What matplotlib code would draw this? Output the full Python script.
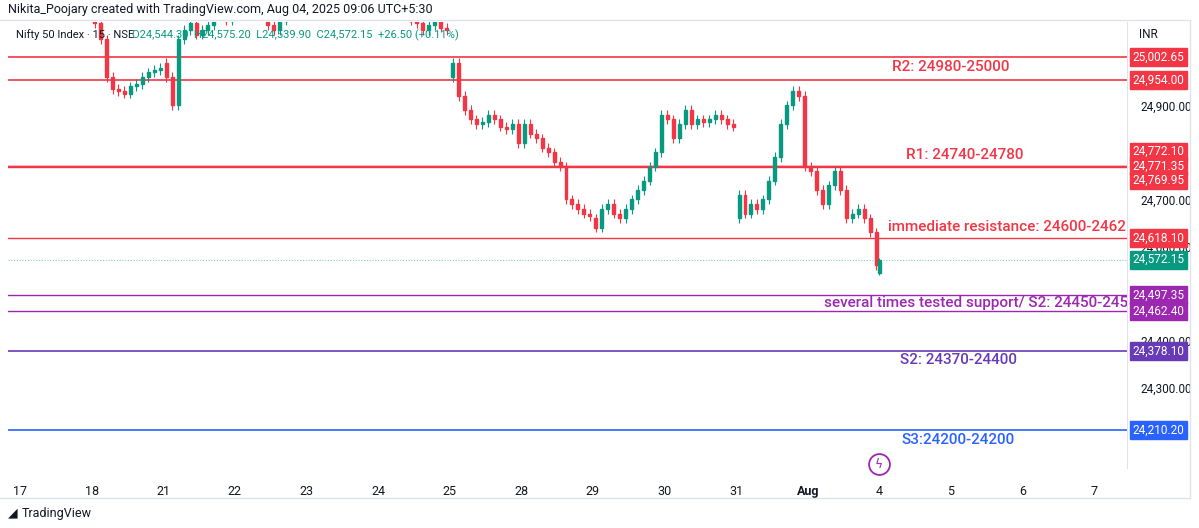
import matplotlib.pyplot as plt
from matplotlib.patches import Rectangle

plt.rcParams["font.family"] = "Roboto"

# x tick labels (trading days)
day_labels = ["17", "18", "21", "22", "23", "24", "25", "28", "29", "30", "31", "Aug", "4", "5", "6", "7"]

# 30-min style closes per trading day (day index 1 = Jul 18)
day_opens = [25090, 24990, 25100, 25140, 25140, 24960, 24820, 24660, 24880, 24660, 24770]
day_closes = [
    [25075, 25040, 24960, 24935, 24930, 24925, 24940, 24945, 24960, 24970, 24975, 24980],
    [24960, 24900, 25040, 25060, 25075, 25050, 25060, 25070, 25090, 25100, 25080, 25100],
    [25110, 25120, 25100, 25090, 25110, 25070, 25060, 25080, 25100, 25120, 25110, 25130],
    [25150, 25160, 25140, 25130, 25150, 25160, 25170, 25150, 25140, 25160, 25150, 25140],
    [25130, 25120, 25110, 25100, 25090, 25080, 25075, 25060, 25070, 25080, 25065, 25060],
    [24990, 24920, 24890, 24870, 24860, 24865, 24880, 24870, 24855, 24850, 24860, 24820],
    [24860, 24840, 24830, 24810, 24800, 24780, 24770, 24700, 24690, 24680, 24670, 24665],
    [24640, 24680, 24690, 24670, 24660, 24680, 24700, 24720, 24740, 24770, 24800, 24880],
    [24870, 24830, 24860, 24890, 24860, 24870, 24865, 24870, 24880, 24870, 24860, 24855],
    [24710, 24670, 24690, 24680, 24700, 24740, 24790, 24860, 24900, 24930, 24920, 24770],
    [24760, 24720, 24690, 24730, 24760, 24720, 24660, 24670, 24680, 24660, 24630, 24560],
]
wick = 10
last_ohlc = [24544.30, 24575.20, 24539.90, 24572.15]

# horizontal levels: price, colour, width
levels = [
    (25002.65, "#F23645", 1.2),
    (24954.00, "#F23645", 1.2),
    (24772.10, "#F23645", 1.0),
    (24771.35, "#F23645", 1.0),
    (24769.95, "#F23645", 1.0),
    (24618.10, "#F23645", 1.0),
    (24497.35, "#9C27B0", 1.0),
    (24462.40, "#9C27B0", 1.0),
    (24378.10, "#673AB7", 1.2),
    (24210.20, "#2962FF", 1.2),
]
tag_labels = [
    (25002.65, "25,002.65", "#F23645", 0),
    (24954.00, "24,954.00", "#F23645", 0),
    (24772.10, "24,772.10", "#F23645", 10),
    (24771.35, "24,771.35", "#F23645", 0),
    (24769.95, "24,769.95", "#F23645", -10),
    (24618.10, "24,618.10", "#F23645", 0),
    (24572.15, "24,572.15", "#089981", 0),
    (24497.35, "24,497.35", "#9C27B0", 0),
    (24462.40, "24,462.40", "#9C27B0", 0),
    (24378.10, "24,378.10", "#673AB7", 0),
    (24210.20, "24,210.20", "#2962FF", 0),
]
# ticks hidden under the tags are left out
price_ticks = [24300, 24400, 24600, 24700, 24900]

UP, DN = "#089981", "#F23645"
fig = plt.figure(figsize=(11.99, 5.28), dpi=100)
ax = fig.add_axes([8 / 1199, 60 / 528, 1119 / 1199, 446 / 528])
ax.set_xlim(-0.168, 15.46)
ax.set_ylim(24129.6, 25077)

n = 12
bw = 0.5 / n
for k, closes in enumerate(day_closes):
    o = day_opens[k]
    for j, c in enumerate(closes):
        x = 1 + k + (j + 0.5) / n
        col = UP if c >= o else DN
        ax.vlines(x, min(o, c) - wick, max(o, c) + wick, color=col, lw=0.8, zorder=3)
        ax.add_patch(Rectangle((x - bw / 2, min(o, c)), bw, max(abs(c - o), 1), color=col, zorder=3))
        o = c
o, h, l, c = last_ohlc
ax.vlines(12.0, l, h, color=UP, lw=0.8, zorder=3)
ax.add_patch(Rectangle((12.0 - bw / 2, o), bw, c - o, color=UP, zorder=3))

for p, col, lw in levels:
    ax.axhline(p, color=col, lw=lw, zorder=2)
ax.axhline(24572.15, color="#089981", lw=0.8, ls=(0, (1, 1.5)), alpha=0.5, zorder=2)

kw = dict(fontsize=11, fontweight="medium")
ax.text(13.0, 24967, "R2: 24980-25000", color="#F23645", ha="center", va="bottom", **kw)
ax.text(13.2, 24780, "R1: 24740-24780", color="#F23645", ha="center", va="bottom", **kw)
ax.text(15.45, 24627, "immediate resistance: 24600-2462", color="#F23645", ha="right", va="bottom", clip_on=True, **kw)
ax.text(15.47, 24480, "several times tested support/ S2: 24450-245", color="#9C27B0", ha="right", va="center", clip_on=True, **kw)
ax.text(13.1, 24358, "S2: 24370-24400", color="#673AB7", ha="center", va="center", **kw)
ax.text(13.1, 24190, "S3:24200-24200", color="#2962FF", ha="center", va="center", **kw)
ax.plot([12.0], [24138], marker="o", ms=15, mfc="white", mec="#9C27B0", mew=1.3, clip_on=False, zorder=4)
ax.text(12.0, 24138, "ϟ", color="#9C27B0", fontsize=9, ha="center", va="center", fontfamily="DejaVu Sans", zorder=5)

ax.set_xticks(range(len(day_labels)))
ax.set_xticklabels(day_labels, fontsize=9, color="#131722")
for t, lab in zip(ax.get_xticklabels(), day_labels):
    if lab == "Aug":
        t.set_fontweight("bold")
ax.tick_params(axis="x", length=0, pad=12)
ax.yaxis.tick_right()
ax.set_yticks(price_ticks)
ax.set_yticklabels([f"{p:,.2f}" for p in price_ticks], fontsize=8.5, color="#131722")
ax.tick_params(axis="y", length=0, pad=10)
for s in ["top", "left", "bottom"]:
    ax.spines[s].set_visible(False)
ax.spines["right"].set_color("#e0e3eb")

for p, txt, col, off in tag_labels:
    ax.annotate(txt, (1.0, p), xycoords=("axes fraction", "data"), xytext=(4, off),
                textcoords="offset points", va="center", ha="left", fontsize=8.5, color="white",
                bbox=dict(boxstyle="square,pad=0.2", fc=col, ec=col), annotation_clip=False)

fig.add_artist(plt.Line2D([0, 1190 / 1199], [1 - 20 / 528] * 2, color="#e0e3eb", lw=1))
fig.add_artist(plt.Line2D([0, 1190 / 1199], [1 - 498 / 528] * 2, color="#e0e3eb", lw=1))
fig.add_artist(plt.Line2D([1190 / 1199] * 2, [1 - 498 / 528, 1 - 20 / 528], color="#e0e3eb", lw=1))
fig.text(8 / 1199, 1 - 10 / 528, "Nikita_Poojary created with TradingView.com, Aug 04, 2025 09:06 UTC+5:30",
         fontsize=9, color="#131722", va="center")
fig.text(16 / 1199, 1 - 35 / 528, "Nifty 50 Index · 15 · NSE", fontsize=8, color="#131722", va="center")
fig.text(132 / 1199, 1 - 35 / 528, "O24,544.30  H24,575.20  L24,539.90  C24,572.15  +26.50 (+0.11%)",
         fontsize=8, color="#089981", va="center")
fig.text(1148 / 1199, 1 - 35 / 528, "INR", fontsize=8.5, color="#131722", va="center", ha="center")
fig.text(8 / 1199, 1 - 513 / 528, "◢", fontsize=9, color="#131722", va="center", fontfamily="DejaVu Sans")
fig.text(22 / 1199, 1 - 513 / 528, "TradingView", fontsize=9, color="#131722", va="center")

fig.savefig("out.png", dpi=100, facecolor="white")
